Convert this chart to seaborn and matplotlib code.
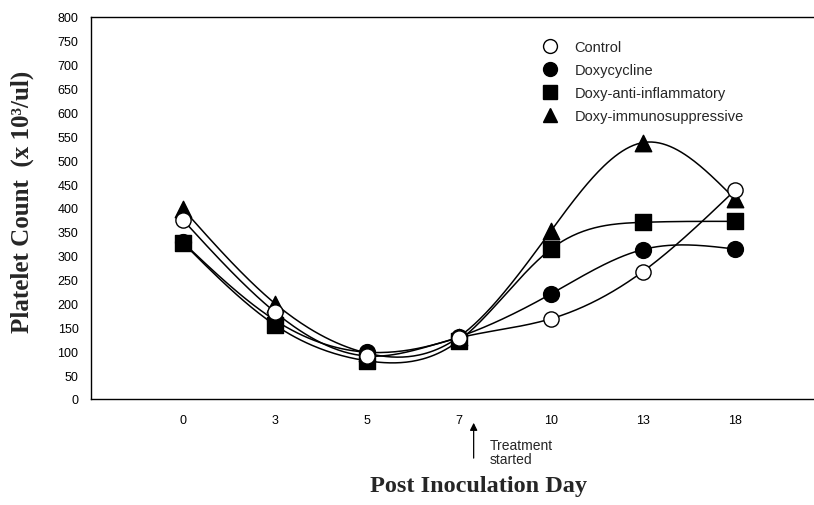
import numpy as np
import pandas as pd
import matplotlib
matplotlib.use("Agg")
import matplotlib.pyplot as plt
import seaborn as sns
from matplotlib.lines import Line2D

days = ["0", "3", "5", "7", "10", "13", "18"]
groups = ["Control", "Doxycycline", "Doxy-anti-inflammatory", "Doxy-immunosuppressive"]
control = [375, 182, 90, 128, 168, 267, 437]
doxycycline = [328, 165, 98, 130, 220, 313, 314]
anti_inflammatory = [327, 155, 80, 122, 314, 370, 372]
immunosuppressive = [398, 200, 96, 130, 352, 537, 419]
y_ticks = list(range(0, 801, 50))

series = {"Control": control, "Doxycycline": doxycycline,
          "Doxy-anti-inflammatory": anti_inflammatory,
          "Doxy-immunosuppressive": immunosuppressive}

rows = []
for g in groups:
    for i, d in enumerate(days):
        rows.append({"pos": i, "day": d, "group": g, "value": series[g][i]})
df = pd.DataFrame(rows)

sns.set_theme(style="white")
plt.rcParams["font.family"] = ["Liberation Sans", "DejaVu Sans"]

fig = plt.figure(figsize=(8.14, 5.06), dpi=100)
ax = fig.add_axes([91/814, 106/506, 1 - 91/814, 382/506])


def natural_spline(xs, ys, n=300):
    xs = np.asarray(xs, float); ys = np.asarray(ys, float)
    k = len(xs); h = np.diff(xs)
    A = np.zeros((k, k)); b = np.zeros(k)
    A[0, 0] = 1; A[-1, -1] = 1
    for i in range(1, k - 1):
        A[i, i-1] = h[i-1]; A[i, i] = 2*(h[i-1]+h[i]); A[i, i+1] = h[i]
        b[i] = 6*((ys[i+1]-ys[i])/h[i] - (ys[i]-ys[i-1])/h[i-1])
    M = np.linalg.solve(A, b)
    xx = np.linspace(xs[0], xs[-1], n)
    idx = np.clip(np.searchsorted(xs, xx) - 1, 0, k - 2)
    x0 = xs[idx]; x1 = xs[idx+1]; hh = x1 - x0
    t0 = x1 - xx; t1 = xx - x0
    yy = (M[idx]*t0**3 + M[idx+1]*t1**3)/(6*hh) + (ys[idx]/hh - M[idx]*hh/6)*t0 + (ys[idx+1]/hh - M[idx+1]*hh/6)*t1
    return xx, yy

for g in groups:
    sub = df[df.group == g]
    xx, yy = natural_spline(sub["pos"], sub["value"])
    ax.plot(xx, yy, color="black", lw=1.1, zorder=2)

marker_style = {
    "Control": dict(marker="o", facecolor="white", s=120),
    "Doxycycline": dict(marker="o", facecolor="black", s=130),
    "Doxy-anti-inflammatory": dict(marker="s", facecolor="black", s=120),
    "Doxy-immunosuppressive": dict(marker="^", facecolor="black", s=140),
}
order_draw = ["Doxy-immunosuppressive", "Doxy-anti-inflammatory", "Doxycycline", "Control"]
for g in order_draw:
    sub = df[df.group == g]
    st = marker_style[g]
    sns.scatterplot(data=sub, x="pos", y="value", ax=ax, marker=st["marker"],
                    color=st["facecolor"], edgecolor="black", linewidth=1.0,
                    s=st["s"], zorder=3, label=g, legend=False)

leg_handles = []
for g in groups:
    st = marker_style[g]
    leg_handles.append(Line2D([], [], linestyle="none", marker=st["marker"],
                              markerfacecolor=st["facecolor"], markeredgecolor="black",
                              markersize=10, markeredgewidth=1.0))
ax.legend(leg_handles, groups, loc="upper left", bbox_to_anchor=(535/814, 1 - 34/506),
          bbox_transform=fig.transFigure, frameon=False, fontsize=10.5,
          labelspacing=0.62, handlelength=1.0, handletextpad=1.2, borderpad=0)

ax.set_xlim(-1, 6.86)
ax.set_ylim(0, 800)
ax.set_xticks(range(len(days)))
ax.set_xticklabels(days)
ax.set_yticks(y_ticks)
ax.set_yticklabels([str(v) for v in y_ticks])
ax.tick_params(axis="both", length=0, labelsize=9, colors="black")
ax.tick_params(axis="x", pad=11)
ax.tick_params(axis="y", pad=9)
ax.set_xlabel(""); ax.set_ylabel("")
for sp in ["left", "bottom", "top"]:
    ax.spines[sp].set_visible(True)
    ax.spines[sp].set_color("black")
    ax.spines[sp].set_linewidth(1.0)
ax.spines["right"].set_visible(False)
ax.grid(False)

# Treatment arrow
ax.annotate("", xy=(3.16, -0.055), xytext=(3.16, -0.162),
            xycoords=("data", "axes fraction"), textcoords=("data", "axes fraction"),
            arrowprops=dict(arrowstyle="-|>", color="black", lw=0.9, mutation_scale=11),
            annotation_clip=False)
ax.text(3.33, -0.103, "Treatment\nstarted", transform=ax.get_xaxis_transform(),
        ha="left", va="top", fontsize=10, linespacing=0.95, clip_on=False)

fig.text(478/814, 1 - 487/506, "Post Inoculation Day", ha="center", va="center",
         fontsize=17.5, fontweight="bold", family=["Liberation Serif", "DejaVu Serif"])
fig.text(22/814, 1 - 202/506, "Platelet Count  (x 10³/ul)", ha="center", va="center",
         rotation=90, fontsize=18, fontweight="bold", family=["Liberation Serif", "DejaVu Serif"])

fig.savefig("out.png", dpi=100)
